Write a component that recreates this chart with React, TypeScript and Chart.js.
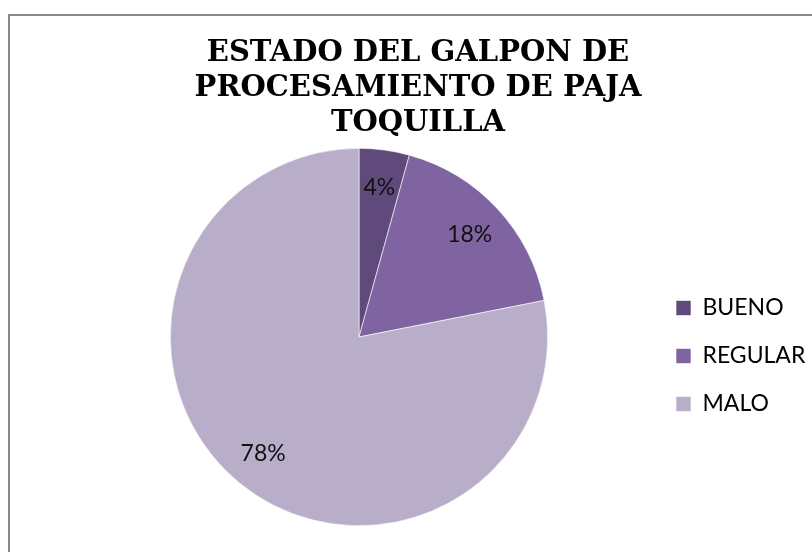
import React, { useEffect, useRef } from "react";
import { Chart, registerables } from "chart.js";

Chart.register(...registerables);

const titleLines = ["ESTADO DEL GALPON DE", "PROCESAMIENTO DE PAJA", "TOQUILLA"];
const categories = ["BUENO", "REGULAR", "MALO"];
const percents = [4.3, 17.6, 78.1];
const sliceColors = ["#604a7b", "#8064a2", "#b9aeca"];

const CANVAS_W = 816;
const CANVAS_H = 536;
const LEGEND_FONT = 23;
const LEGEND_BOX = 15;
const LEGEND_PAD = 25;
const LEGEND_LEFT = 641;
const PAD_LEFT = 57;

const pctLabels = {
  id: "pctLabels",
  afterDatasetsDraw(chart: any) {
    const ctx = chart.ctx;
    const meta = chart.getDatasetMeta(0);
    const data = chart.data.datasets[0].data as number[];
    const total = data.reduce((a, b) => a + b, 0);
    ctx.save();
    ctx.font = "23px Lato";
    ctx.fillStyle = "#111111";
    ctx.textAlign = "center";
    ctx.textBaseline = "middle";
    meta.data.forEach((arc: any, i: number) => {
      const mid = (arc.startAngle + arc.endAngle) / 2;
      const r = arc.outerRadius * 0.8;
      const x = arc.x + Math.cos(mid) * r;
      const y = arc.y + Math.sin(mid) * r;
      ctx.fillText(Math.round((data[i] / total) * 100) + "%", x, y);
    });
    ctx.restore();
  },
};

const chartTitle = {
  id: "chartTitle",
  afterDraw(chart: any) {
    const ctx = chart.ctx;
    ctx.save();
    ctx.font = "bold 29px 'DejaVu Serif'";
    ctx.fillStyle = "#000000";
    ctx.textAlign = "center";
    ctx.textBaseline = "middle";
    titleLines.forEach((line, i) => {
      ctx.fillText(line, 408, 37 + i * 35);
    });
    ctx.restore();
  },
};

export default function App() {
  const ref = useRef<HTMLCanvasElement>(null);
  useEffect(() => {
    if (!ref.current) return;
    const mctx = document.createElement("canvas").getContext("2d")!;
    mctx.font = `normal ${LEGEND_FONT}px Lato`;
    const maxText = Math.max(...categories.map((c) => mctx.measureText(c).width));
    const legendWidth = LEGEND_PAD + LEGEND_BOX + LEGEND_FONT / 2 + maxText + 10;
    const padRight = Math.max(0, CANVAS_W - LEGEND_LEFT - legendWidth);

    const chart = new Chart(ref.current, {
      type: "pie",
      data: {
        labels: categories,
        datasets: [
          {
            data: percents,
            backgroundColor: sliceColors,
            borderColor: "#ffffff",
            borderWidth: 0.6,
          },
        ],
      },
      options: {
        responsive: false,
        animation: false,
        layout: { padding: { left: PAD_LEFT, right: padRight, top: 132, bottom: 26 } },
        plugins: {
          tooltip: { enabled: false },
          title: { display: false },
          legend: {
            position: "right",
            fullSize: false,
            title: { display: true, text: " ", font: { size: 10, lineHeight: "12px" }, padding: { top: 13, bottom: 13 } },
            labels: {
              color: "#000000",
              font: { family: "Lato", size: LEGEND_FONT },
              boxWidth: LEGEND_BOX,
              boxHeight: LEGEND_BOX,
              padding: LEGEND_PAD,
            },
          },
        },
      },
      plugins: [pctLabels, chartTitle],
    });
    return () => chart.destroy();
  }, []);
  return (
    <div style={{ position: "fixed", left: 0, top: 0, width: 812, height: 552, overflow: "hidden", background: "#fff" }}>
      <div
        style={{
          position: "absolute",
          left: 8,
          top: 14,
          width: 830,
          height: 560,
          border: "2px solid #888888",
        }}
      >
        <canvas ref={ref} width={CANVAS_W} height={CANVAS_H} style={{ display: "block", width: CANVAS_W, height: CANVAS_H }} />
      </div>
    </div>
  );
}
